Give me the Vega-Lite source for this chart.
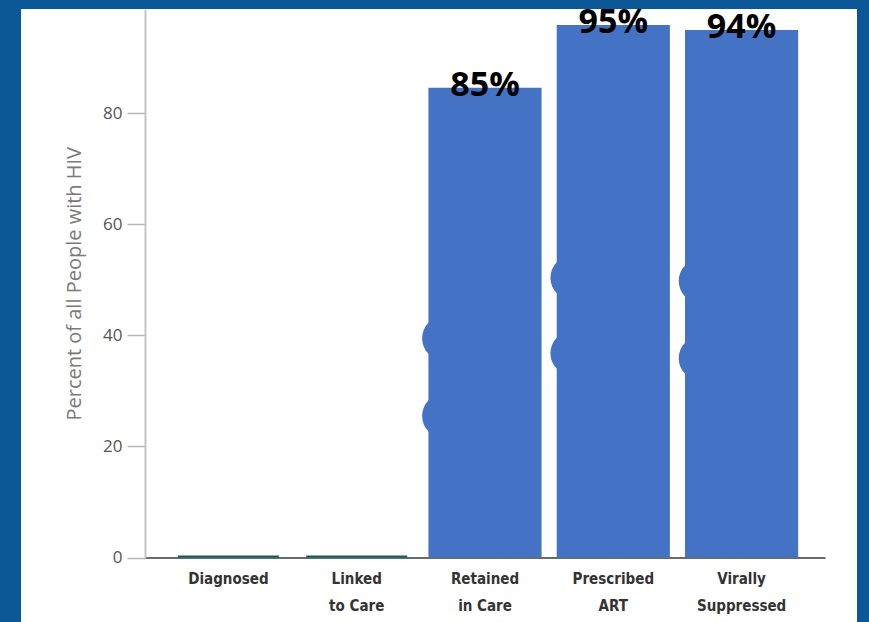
{
  "$schema": "https://vega.github.io/schema/vega-lite/v6.json",
  "width": 836,
  "height": 613,
  "autosize": {"type": "none"},
  "padding": {"left": 21, "top": 9, "right": 12, "bottom": 0},
  "background": "#0B5796",
  "config": {"view": {"fill": "white", "stroke": null}},
  "datasets": {
    "stages": [
      {"stage": "Diagnosed", "percent": 0.35, "label": ""},
      {"stage": "Linked to Care", "percent": 0.35, "label": ""},
      {"stage": "Retained in Care", "percent": 84.6, "label": "85%"},
      {"stage": "Prescribed ART", "percent": 95.9, "label": "95%"},
      {"stage": "Virally Suppressed", "percent": 95.0, "label": "94%"}
    ],
    "blobs": [
      {"stage": "Retained in Care", "percent": 39.5},
      {"stage": "Retained in Care", "percent": 25.5},
      {"stage": "Prescribed ART", "percent": 50.4},
      {"stage": "Prescribed ART", "percent": 36.8},
      {"stage": "Virally Suppressed", "percent": 49.8},
      {"stage": "Virally Suppressed", "percent": 35.9}
    ]
  },
  "encoding": {
    "x": {
      "field": "stage",
      "type": "nominal",
      "sort": null,
      "scale": {
        "domain": ["Diagnosed", "Linked to Care", "Retained in Care", "Prescribed ART", "Virally Suppressed"],
        "range": [124, 804],
        "paddingInner": 0.1,
        "paddingOuter": 0.2
      },
      "axis": {
        "orient": "bottom",
        "offset": -64.5,
        "title": null,
        "ticks": false,
        "domainColor": "#6a6a6a",
        "domainWidth": 2,
        "labelAngle": 0,
        "labelFont": "DejaVu Sans Condensed",
        "labelFontWeight": "bold",
        "labelFontSize": 15,
        "labelColor": "#333333",
        "labelLineHeight": 27,
        "labelPadding": 14,
        "labelExpr": "indexof(datum.label, ' ') < 0 ? datum.label : [slice(datum.label, 0, indexof(datum.label, ' ')), slice(datum.label, indexof(datum.label, ' ') + 1)]"
      }
    },
    "y": {
      "field": "percent",
      "type": "quantitative",
      "scale": {"domain": [0, 98.8], "range": [548.5, 0], "nice": false, "zero": true},
      "axis": {
        "values": [0, 20, 40, 60, 80],
        "offset": -124,
        "grid": false,
        "title": "Percent of all People with HIV",
        "tickSize": 18,
        "tickColor": "#b5b5b5",
        "tickWidth": 1.5,
        "domainColor": "#c4c4c4",
        "domainWidth": 2,
        "labelFont": "Open Sans",
        "labelFontSize": 17,
        "labelColor": "#555555",
        "labelPadding": 5,
        "titleFont": "Open Sans",
        "titleFontSize": 20,
        "titleFontWeight": "normal",
        "titleColor": "#7a7a7a",
        "titlePadding": 18
      }
    }
  },
  "layer": [
    {
      "data": {"name": "stages"},
      "transform": [{"filter": "datum.percent < 1"}],
      "mark": {"type": "bar", "color": "#0E5E5C", "width": {"band": 0.875}},
      "encoding": {"y2": {"datum": 0}}
    },
    {
      "data": {"name": "stages"},
      "transform": [{"filter": "datum.percent >= 1"}],
      "mark": {"type": "bar", "color": "#4472C4", "width": {"band": 0.98}},
      "encoding": {"y2": {"datum": 0}}
    },
    {
      "data": {"name": "blobs"},
      "mark": {"type": "circle", "color": "#4472C4", "opacity": 1, "size": 1963},
      "encoding": {
        "x": {"field": "stage", "type": "nominal", "bandPosition": 0},
        "xOffset": {"value": 17}
      }
    },
    {
      "data": {"name": "stages"},
      "transform": [{"filter": "datum.label != ''"}],
      "mark": {"type": "text", "font": "Open Sans", "fontWeight": "bold", "fontSize": 34, "color": "#000000", "baseline": "alphabetic", "dy": 8},
      "encoding": {"text": {"field": "label"}}
    }
  ]
}
